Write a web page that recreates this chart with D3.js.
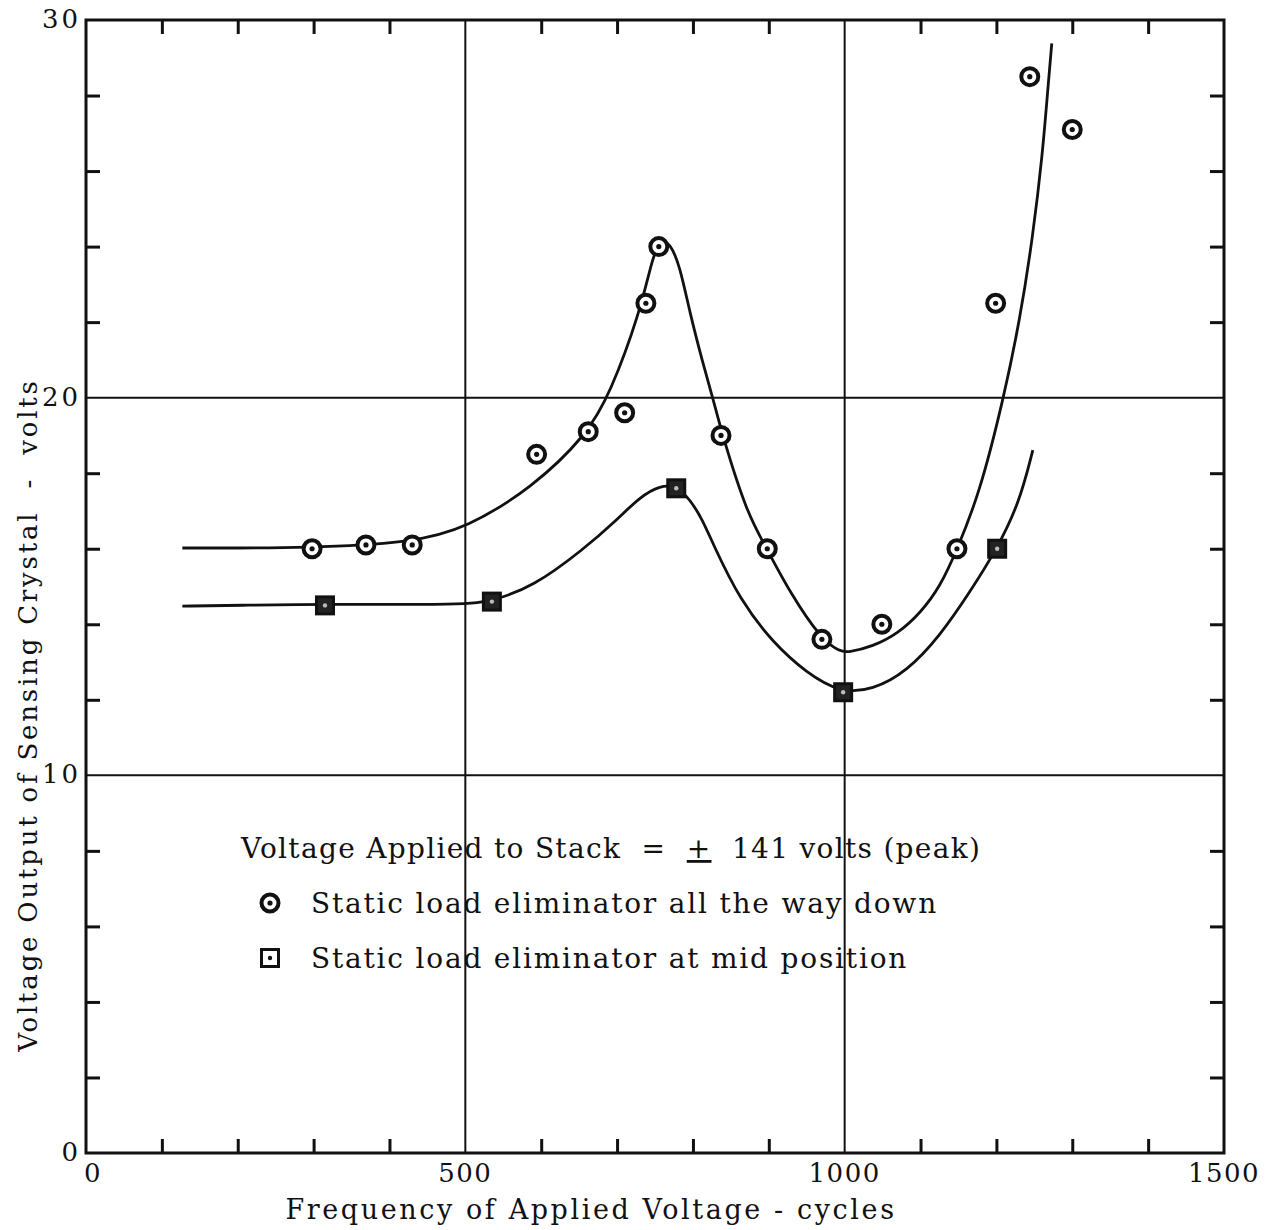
<!DOCTYPE html>
<meta charset="utf-8">
<style>
  body { margin: 0; background: #fff; }
  .chart text { font-family: "DejaVu Serif", "Liberation Serif", serif; fill: #111; white-space: pre; }
  .frame { fill: none; stroke: #111; stroke-width: 3px; }
  .grid line { stroke: #111; stroke-width: 2px; }
  .tick line { stroke: #111; stroke-width: 3px; }
  .curve { fill: none; stroke: #111; stroke-width: 2.8px; }
</style>
<body>
<svg class="chart"></svg>
<script src="https://cdn.jsdelivr.net/npm/d3@7"></script>
<script>

// data

// static load eliminator all the way down (circles)
var downFreq = [298, 369, 430, 594, 662, 710, 738, 755, 837, 898, 970, 1049, 1148, 1199, 1244, 1300];
var downVolts = [16.0, 16.1, 16.1, 18.5, 19.1, 19.6, 22.5, 24.0, 19.0, 16.0, 13.6, 14.0, 16.0, 22.5, 28.5, 27.1];

// static load eliminator at mid position (squares)
var midFreq = [315, 535, 778, 998, 1201];
var midVolts = [14.5, 14.6, 17.6, 12.2, 16.0];

// hand drawn fitted curves, traced
var downCurveFreq = [127, 200, 282, 429, 502, 589, 660, 691, 730, 747, 757, 770, 783, 796, 813, 827, 838, 871, 897, 928, 970, 994, 1004, 1037, 1070, 1100, 1126, 1148, 1178, 1209, 1231, 1248, 1261, 1268, 1273];
var downCurveVolts = [16.02, 16.02, 16.02, 16.15, 16.55, 17.63, 19.01, 20.12, 22.24, 23.75, 24.15, 24.1, 23.47, 22.24, 20.92, 19.94, 19.06, 16.94, 16.02, 14.83, 13.58, 13.28, 13.25, 13.41, 13.75, 14.3, 15.0, 15.97, 17.48, 19.94, 22.06, 24.26, 26.48, 28.23, 29.38];

var midCurveFreq = [127, 200, 315, 500, 536, 589, 655, 700, 730, 757, 779, 796, 812, 827, 862, 906, 950, 994, 1037, 1082, 1126, 1165, 1200, 1230, 1248];
var midCurveVolts = [14.48, 14.5, 14.54, 14.51, 14.62, 14.99, 15.97, 16.77, 17.37, 17.68, 17.66, 17.3, 16.8, 16.1, 14.64, 13.50, 12.71, 12.19, 12.26, 12.75, 13.7, 14.85, 15.97, 17.2, 18.61];

var xTicks = [0, 500, 1000, 1500];
var yTicks = [0, 10, 20, 30];
var xMinor = [100, 200, 300, 400, 600, 700, 800, 900, 1100, 1200, 1300, 1400];
var yMinor = [2, 4, 6, 8, 12, 14, 16, 18, 22, 24, 26, 28];

var xTitle = "Frequency of Applied Voltage - cycles";
var yTitle = "Voltage Output of Sensing Crystal  -  volts";
var legendHead = ["Voltage Applied to Stack  =  ", "+", "  141 volts (peak)"];
var legendItems = ["Static load eliminator all the way down", "Static load eliminator at mid position"];

// chart area

var W = 1270, H = 1230;
var L = 86, R = 1224, T = 20, B = 1153;

var svg = d3.select(".chart").attr("width", W).attr("height", H);

var x = d3.scaleLinear().domain([0, 1500]).range([L, R]);
var y = d3.scaleLinear().domain([0, 30]).range([B, T]);

// grid lines at the major values
var grid = svg.append("g").attr("class", "grid");
grid.selectAll(".gx").data([500, 1000]).enter().append("line")
    .attr("x1", d => x(d)).attr("x2", d => x(d))
    .attr("y1", T).attr("y2", B);
grid.selectAll(".gy").data([10, 20]).enter().append("line")
    .attr("x1", L).attr("x2", R)
    .attr("y1", d => y(d)).attr("y2", d => y(d));

// inward minor ticks on all four sides
var tk = 14;
svg.append("g").attr("class", "tick").attr("transform", "translate(0," + B + ")")
    .call(d3.axisTop(x).tickValues(xMinor).tickSize(tk).tickFormat(""))
    .call(g => g.select(".domain").remove());
svg.append("g").attr("class", "tick").attr("transform", "translate(0," + T + ")")
    .call(d3.axisBottom(x).tickValues(xMinor).tickSize(tk).tickFormat(""))
    .call(g => g.select(".domain").remove());
svg.append("g").attr("class", "tick").attr("transform", "translate(" + L + ",0)")
    .call(d3.axisRight(y).tickValues(yMinor).tickSize(tk).tickFormat(""))
    .call(g => g.select(".domain").remove());
svg.append("g").attr("class", "tick").attr("transform", "translate(" + R + ",0)")
    .call(d3.axisLeft(y).tickValues(yMinor).tickSize(tk).tickFormat(""))
    .call(g => g.select(".domain").remove());

svg.append("rect").attr("class", "frame")
    .attr("x", L).attr("y", T).attr("width", R - L).attr("height", B - T);

// tick labels
svg.selectAll(".xl").data(xTicks).enter().append("text")
    .attr("x", d => x(d) + (d === 0 ? 7 : 0))
    .attr("y", B + 29)
    .attr("text-anchor", "middle")
    .style("font-size", "26px").style("letter-spacing", "1.5px")
    .text(d => d);

svg.selectAll(".yl").data(yTicks).enter().append("text")
    .attr("x", L - 5)
    .attr("y", d => y(d) + 8)
    .attr("text-anchor", "end")
    .style("font-size", "26px").style("letter-spacing", "3px")
    .text(d => d);

// axis titles
svg.append("text")
    .attr("x", 591).attr("y", B + 66)
    .attr("text-anchor", "middle")
    .style("font-size", "27px").style("letter-spacing", "2.6px")
    .text(xTitle);

svg.append("text")
    .attr("transform", "translate(37," + 715 + ") rotate(-90)")
    .attr("text-anchor", "middle")
    .style("font-size", "26px").style("letter-spacing", "2.8px")
    .text(yTitle);

// curves
var line = d3.line()
    .x(d => x(d[0])).y(d => y(d[1]))
    .curve(d3.curveBasis);

svg.append("path").attr("class", "curve")
    .attr("d", line(d3.zip(downCurveFreq, downCurveVolts)));
svg.append("path").attr("class", "curve")
    .attr("d", line(d3.zip(midCurveFreq, midCurveVolts)));

// markers
function circleMark(g) {
    g.append("circle").attr("r", 8.5).attr("fill", "#fff").attr("stroke", "#111").attr("stroke-width", 4);
    g.append("circle").attr("r", 2.6).attr("fill", "#111");
}
function squareMark(g, dark) {
    g.append("rect").attr("x", -8.5).attr("y", -8.5).attr("width", 17).attr("height", 17)
        .attr("fill", dark ? "#222" : "#fff").attr("stroke", "#111").attr("stroke-width", 3);
    g.append("circle").attr("r", 2.2).attr("fill", dark ? "#bbb" : "#111");
}

svg.selectAll(".pd").data(d3.zip(downFreq, downVolts)).enter().append("g")
    .attr("transform", d => "translate(" + x(d[0]) + "," + y(d[1]) + ")")
    .each(function () { circleMark(d3.select(this)); });

svg.selectAll(".pm").data(d3.zip(midFreq, midVolts)).enter().append("g")
    .attr("transform", d => "translate(" + x(d[0]) + "," + y(d[1]) + ")")
    .each(function () { squareMark(d3.select(this), true); });

// legend
var head = svg.append("text").attr("x", 241).attr("y", 858)
    .style("font-size", "28px").style("letter-spacing", "1.3px");
head.append("tspan").text(legendHead[0]);
head.append("tspan").style("text-decoration", "underline").text(legendHead[1]);
head.append("tspan").text(legendHead[2]);

legendItems.forEach(function (t, i) {
    var cy = 903 + i * 55;
    var g = svg.append("g").attr("transform", "translate(270," + cy + ")");
    if (i === 0) circleMark(g); else squareMark(g, false);
    svg.append("text").attr("x", 311).attr("y", cy + 10)
        .style("font-size", "28px").style("letter-spacing", "1.8px")
        .text(t);
});

</script>
</body>
